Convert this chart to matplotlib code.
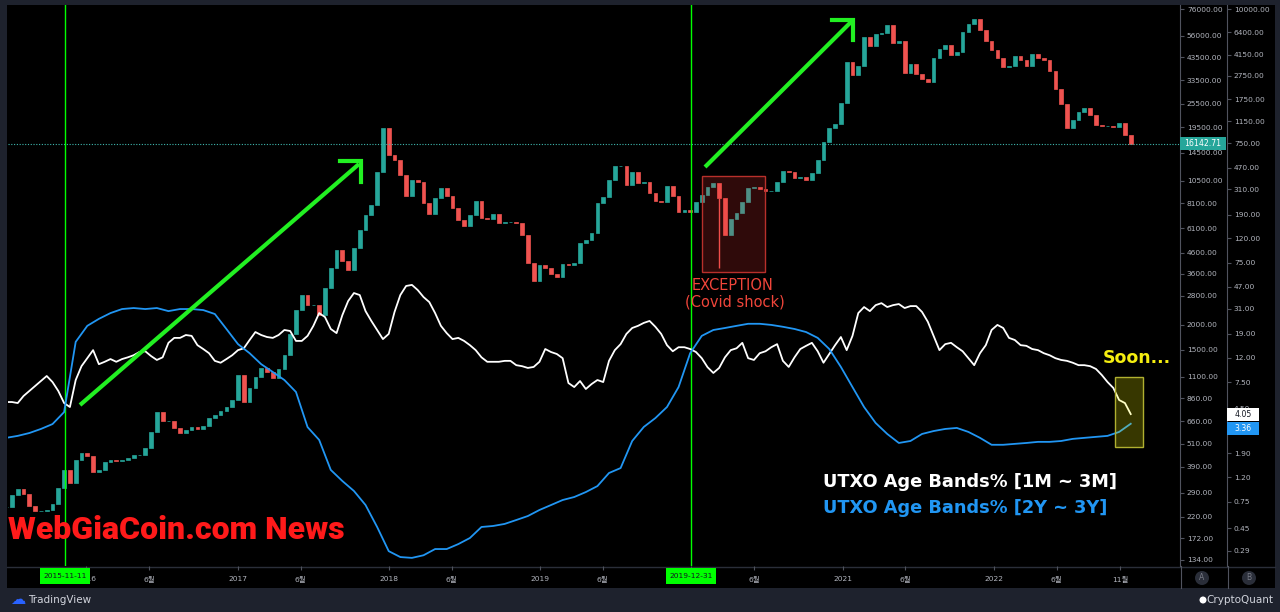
import numpy as np
import pandas as pd
import matplotlib
matplotlib.use("Agg")
import matplotlib.pyplot as plt
import matplotlib.dates as mdates
from matplotlib.ticker import FixedLocator, FixedFormatter, NullLocator
from matplotlib.patches import Rectangle, Circle

plt.rcParams['font.family'] = ['DejaVu Sans', 'Noto Sans CJK KR']

# ---------------- data ----------------
price_dates = pd.date_range('2015-06-21', periods=195, freq='14D')
price_close = [247, 282, 302, 286, 249, 235, 235, 238, 255, 306, 377,
               325, 423, 458, 442, 368, 377, 413, 423, 418, 423,
               432, 448, 448, 485, 583, 735, 662, 662, 611, 577,
               597, 618, 604, 625, 686, 710, 743, 778, 843, 1124,
               824, 968, 1099, 1219, 1164, 1086, 1205, 1416, 1803, 2377,
               2825, 2518, 2518, 2244, 3061, 3854, 4742, 4179, 3767, 4852,
               5970, 7096, 7962, 11642, 19318, 14159, 13366, 11246, 8831, 10617,
               10376, 8147, 7178, 8629, 9682, 8831, 7691, 6699, 6252, 7096,
               8337, 6855, 6776, 7178, 6472, 6547, 6547, 6472, 5636, 4084,
               3319, 3991, 3855, 3597, 3475, 4037, 3991, 4084, 5141, 5321,
               5768, 8147, 8729, 10617, 12475, 12475, 10024, 11642, 10257, 10376,
               9141, 8337, 8241, 9909, 8831, 7345, 7516, 7345, 8241, 8933,
               9795, 10257, 8629, 5636, 6776, 7261, 8241, 9682, 9795, 9571,
               9354, 9354, 10376, 11776, 11642, 10864, 10990, 10617, 11509, 13366,
               16445, 19318, 20231, 25765, 41308, 35564, 39448, 55079, 49659, 57017,
               57680, 63243, 51407, 52603, 36393, 40365, 35975, 33961, 32812, 43249,
               47971, 50232, 44773, 46348, 58349, 63974, 67760, 59704, 52604, 47424,
               43249, 38992, 39448, 44262, 42267, 39448, 45290, 43249, 42267, 37241,
               30268, 25469, 19318, 21184, 23228, 24320, 22439, 20000, 19772, 19772,
               19546, 20466, 17825, 16142.71]

utxo_1m_3m = [5.11, 5.11, 5.01, 5.74, 6.32, 6.96, 7.66, 8.44, 7.51, 6.32, 5.01,
              4.64, 7.81, 10.2, 11.9, 13.9, 10.6, 11.1, 11.7, 11.1, 11.7,
              12.1, 12.6, 13.4, 13.6, 12.4, 11.5, 12.1, 16.0, 17.6, 17.6,
              18.6, 18.3, 15.3, 14.2, 13.1, 11.3, 10.9, 11.7, 12.6, 13.9,
              14.4, 16.9, 19.7, 18.6, 17.9, 17.6, 18.6, 20.5, 20.1, 16.6,
              16.6, 18.3, 22.2, 28.4, 26.3, 20.9, 19.3, 27.3, 35.8, 41.8,
              40.2, 29.5, 24.4, 20.5, 17.2, 19.0, 29.0, 40.2, 47.9, 48.9,
              44.3, 38.7, 35.1, 28.4, 22.2, 19.3, 17.2, 17.6, 16.6, 15.3,
              13.9, 12.1, 11.1, 11.1, 11.1, 11.3, 11.3, 10.4, 10.2, 9.86,
              10.05, 11.1, 14.2, 13.4, 12.9, 11.9, 7.37, 6.82, 7.66, 6.57,
              7.23, 7.81, 7.51, 11.3, 13.9, 15.6, 19.0, 21.3, 22.2, 23.5,
              24.4, 21.8, 19.0, 15.3, 13.6, 14.7, 14.7, 14.2, 13.4, 11.9,
              10.0, 8.95, 9.86, 12.1, 13.9, 14.4, 16.0, 11.9, 11.5, 13.1,
              13.6, 14.7, 15.6, 11.3, 10.05, 12.1, 14.2, 15.1, 16.0, 13.6,
              10.9, 12.9, 15.3, 17.9, 13.9, 18.3, 28.4, 31.9, 29.5, 33.1,
              34.4, 31.9, 33.1, 33.8, 31.3, 32.5, 32.5, 29.0, 24.0, 18.3,
              13.9, 15.6, 16.0, 14.7, 13.6, 11.9, 10.4, 13.1, 15.3, 20.5,
              22.6, 21.3, 17.6, 16.9, 15.3, 15.1, 14.2, 13.9, 13.1, 12.6,
              11.9, 11.5, 11.3, 10.9, 10.4, 10.4, 10.2, 9.67, 8.61, 7.51,
              6.70, 5.31, 5.01, 4.05]

band_dates = pd.date_range('2015-06-21', periods=98, freq='28D')
utxo_2y_3y = [2.56, 2.66, 2.81, 3.04, 3.34, 4.21, 16.3, 22.2, 25.4, 28.4,
              30.7, 31.3, 30.7, 31.3, 29.5, 30.7, 30.7, 30.1, 27.9, 20.9,
              15.6, 13.1, 10.6, 9.12, 7.81, 6.20, 3.15, 2.46, 1.38, 1.114,
              0.919, 0.701, 0.459, 0.288, 0.257, 0.253, 0.266, 0.300, 0.300, 0.330,
              0.371, 0.459, 0.468, 0.487, 0.525, 0.567, 0.637, 0.701, 0.772, 0.818,
              0.90, 1.01, 1.30, 1.43, 2.41, 3.16, 3.75, 4.64, 6.82, 13.1,
              18.3, 20.5, 21.3, 22.2, 23.1, 23.1, 22.6, 21.8, 20.9, 19.7,
              17.6, 14.2, 10.05, 6.82, 4.64, 3.41, 2.76, 2.32, 2.41, 2.76,
              2.92, 3.04, 3.10, 2.87, 2.56, 2.24, 2.24, 2.28, 2.32, 2.37,
              2.37, 2.41, 2.51, 2.56, 2.61, 2.66, 2.87, 3.36]

wick_dates = ['2020-03-12']
wick_lows = [3850]

x_tick_dates = ['2016-01-01', '2016-06-01', '2017-01-01', '2017-06-01', '2018-01-01',
                '2018-06-01', '2019-01-01', '2019-06-01', '2020-01-01', '2020-06-01',
                '2021-01-01', '2021-06-01', '2022-01-01', '2022-06-01', '2022-11-01']
x_tick_labels = ['2016', '6월', '2017', '6월', '2018', '6월', '2019', '6월', '2020', '6월',
                 '2021', '6월', '2022', '6월', '11월']
price_ticks = [76000, 56000, 43500, 33500, 25500, 19500, 14500, 10500, 8100, 6100, 4600,
               3600, 2800, 2000, 1500, 1100, 860, 660, 510, 390, 290, 220, 172, 134]
band_ticks = [10000, 6400, 4150, 2750, 1750, 1150, 750, 470, 310, 190, 120, 75, 47, 31,
              19, 12, 7.5, 4.5, 2.9, 1.9, 1.2, 0.75, 0.45, 0.29]
marker_dates = ['2015-11-11', '2019-12-31']
last_price = 16142.71
last_1m_3m = 4.05
last_2y_3y = 3.36

assert len(price_close) == len(price_dates) == len(utxo_1m_3m)
assert len(utxo_2y_3y) == len(band_dates)

# ---------------- style ----------------
W, H = 1280, 612
FOOT = '#1e222d'
GRID = '#50535e'
TXT = '#b2b5be'
UP, DN = '#26a69a', '#ef5350'
LIME = '#22f022'
BLUE = '#2196f3'

fig = plt.figure(figsize=(W / 100, H / 100), dpi=100, facecolor=FOOT)

bg = fig.add_axes([0, 0, 1, 1])
bg.set_xlim(0, W); bg.set_ylim(H, 0); bg.axis('off'); bg.set_zorder(0)
bg.add_patch(Rectangle((7, 5), 1268, 583, fc='black', ec='none'))
bg.plot([7, 1275], [566.5, 566.5], color='#2a2e39', lw=1)
bg.plot([1180.5, 1180.5], [566, 588], color=GRID, lw=0.8)
bg.plot([1227.5, 1227.5], [566, 588], color=GRID, lw=0.8)

ax = fig.add_axes([8 / W, (H - 566) / H, (1180 - 8) / W, (566 - 5) / H])
ax.set_zorder(1)
ax.set_facecolor('black')
ax.set_yscale('log')
ax.set_ylim(124.7, 79616)
xmin = mdates.date2num(pd.Timestamp('2015-06-25 12:00'))
xmax = mdates.date2num(pd.Timestamp('2023-03-26'))
ax.set_xlim(xmin, xmax)

# candles (open = previous close)
c = np.array(price_close, dtype=float)
o = np.r_[c[0], c[:-1]]
lo = np.minimum(o, c)
hi = np.maximum(o, c)
cols = np.where(c >= o, UP, DN)
xd = mdates.date2num(price_dates)
ax.bar(xd, hi - lo, bottom=lo, width=9, color=cols, edgecolor=cols, linewidth=0.5, zorder=2)
for d, lw_ in zip(wick_dates, wick_lows):
    dn = mdates.date2num(pd.Timestamp(d))
    i = int(np.argmin(np.abs(xd - dn)))
    ax.vlines(xd[i], lw_, lo[i], color=cols[i], lw=1, zorder=2)

ax.axhline(last_price, color='#3fb8af', lw=0.8, ls=(0, (1, 1.5)), zorder=3)
for d in marker_dates:
    ax.axvline(mdates.date2num(pd.Timestamp(d)), color='#00ff00', lw=1, zorder=4)

ax.xaxis.set_major_locator(FixedLocator(mdates.date2num(pd.to_datetime(x_tick_dates))))
ax.xaxis.set_major_formatter(FixedFormatter(x_tick_labels))
ax.xaxis.set_minor_locator(NullLocator())
ax.tick_params(axis='x', which='major', length=3, width=0.8, color=GRID,
               labelcolor=TXT, labelsize=5.4, pad=4)

ax2 = ax.twinx()
ax2.set_yscale('log')
ax2.set_ylim(0.2163, 10802)
ax2.plot(price_dates, utxo_1m_3m, color='white', lw=1.3, zorder=3)
ax2.plot(band_dates, utxo_2y_3y, color=BLUE, lw=1.3, zorder=3)

# price axis (A) on the right, after twinx
for s in ['top', 'left', 'bottom']:
    ax.spines[s].set_visible(False)
ax.spines['right'].set_visible(True)
ax.spines['right'].set_color(GRID)
ax.spines['right'].set_linewidth(0.8)
ax.yaxis.tick_right()
ax.yaxis.set_label_position('right')
ax.yaxis.set_major_locator(FixedLocator(price_ticks))
ax.yaxis.set_major_formatter(FixedFormatter([f'{v:.2f}' for v in price_ticks]))
ax.yaxis.set_minor_locator(NullLocator())
ax.tick_params(axis='y', which='major', left=False, labelleft=False, right=True,
               labelright=True, length=3, width=0.8, color=GRID,
               labelcolor=TXT, labelsize=5.4, pad=2)

# band axis (B)
for s in ['top', 'left', 'bottom']:
    ax2.spines[s].set_visible(False)
ax2.spines['right'].set_position(('outward', 47 * 72 / 100))
ax2.spines['right'].set_color(GRID)
ax2.spines['right'].set_linewidth(0.8)
ax2.yaxis.set_major_locator(FixedLocator(band_ticks))
ax2.yaxis.set_major_formatter(FixedFormatter([f'{v:.2f}' for v in band_ticks]))
ax2.yaxis.set_minor_locator(NullLocator())
ax2.tick_params(axis='y', which='major', length=3, width=0.8, color=GRID,
                labelcolor=TXT, labelsize=5.4, pad=2)

# ---------------- overlay annotations ----------------
ov = fig.add_axes([0, 0, 1, 1])
ov.set_xlim(0, W); ov.set_ylim(H, 0); ov.axis('off'); ov.set_zorder(5)
ov.patch.set_visible(False)


def to_px(axis, xnum, v):
    dx, dy = axis.transData.transform((xnum, v))
    return dx, H - dy


# value labels on the axes
_, yp = to_px(ax, xmin, last_price)
ov.add_patch(Rectangle((1180, yp - 6.5), 46, 13, fc=UP, ec='none'))
ov.text(1203, yp, f'{last_price:.2f}', color='white', fontsize=5.6, ha='center', va='center')

_, y1 = to_px(ax2, xmin, last_1m_3m)
ov.add_patch(Rectangle((1227, y1 - 6.5), 32, 13, fc='white', ec='none'))
ov.text(1243, y1, f'{last_1m_3m:.2f}', color='#131722', fontsize=5.6, ha='center', va='center')
_, y2 = to_px(ax2, xmin, last_2y_3y)
y2 = max(y2, y1 + 14)
ov.add_patch(Rectangle((1227, y2 - 6.5), 32, 13, fc=BLUE, ec='none'))
ov.text(1243, y2, f'{last_2y_3y:.2f}', color='white', fontsize=5.6, ha='center', va='center')

# green date labels
for d in marker_dates:
    xp, _ = to_px(ax, mdates.date2num(pd.Timestamp(d)), 1000)
    ov.add_patch(Rectangle((xp - 25, 568), 50, 16, fc='#00ff00', ec='none'))
    ov.text(xp, 576.5, d, fontsize=5.4, color='#131722', ha='center', va='center')

# arrows
for (x0, y0, x1, y1_) in [(80, 405, 359, 164), (705, 167, 851, 22)]:
    ov.plot([x0, x1], [y0, y1_], color=LIME, lw=3, solid_capstyle='butt')
ov.plot([340, 361, 361], [161, 161, 182], color=LIME, lw=3, solid_joinstyle='miter')
ov.plot([832, 853, 853], [20, 20, 40], color=LIME, lw=3, solid_joinstyle='miter')

# boxes
ov.add_patch(Rectangle((702, 176), 63, 96, fc=(0.94, 0.21, 0.2, 0.2), ec='#b8302b', lw=1))
ov.add_patch(Rectangle((1115, 377), 28, 70, fc=(1, 1, 0, 0.22), ec='#b0b030', lw=1))

ov.text(733, 286, 'EXCEPTION', color='#f0453a', fontsize=10.5, ha='center', va='center')
ov.text(735, 302, '(Covid shock)', color='#f0453a', fontsize=10.5, ha='center', va='center')
ov.text(1103, 358, 'Soon...', color='#f5ee10', fontsize=12.5, fontweight='bold',
        ha='left', va='center')

ov.text(823, 482, 'UTXO Age Bands% [1M ~ 3M]', color='white', fontsize=12.8,
        fontweight='bold', ha='left', va='center')
ov.text(823, 508, 'UTXO Age Bands% [2Y ~ 3Y]', color=BLUE, fontsize=12.8,
        fontweight='bold', ha='left', va='center')

ov.text(8, 530, 'WebGiaCoin.com News', color='#ff1a1a', fontsize=23, fontweight='heavy',
        family=['Roboto', 'DejaVu Sans'], ha='left', va='center')

# A / B buttons
for xb, lab in [(1202, 'A'), (1249, 'B')]:
    ov.add_patch(Circle((xb, 578), 7, fc='#2a2e39', ec='none'))
    ov.text(xb, 578, lab, color='#787b86', fontsize=5.5, ha='center', va='center')

# footer
ov.text(10, 600, '☁', color='#2962ff', fontsize=11, ha='left', va='center')
ov.text(28, 600, 'TradingView', color='#d1d4dc', fontsize=7.5, ha='left', va='center')
ov.text(1273, 600, 'CryptoQuant', color='#d1d4dc', fontsize=7.5, ha='right', va='center')
ov.add_patch(Circle((1203, 600), 3.5, fc='white', ec='none'))

fig.savefig('out.png', dpi=100, facecolor=FOOT)
